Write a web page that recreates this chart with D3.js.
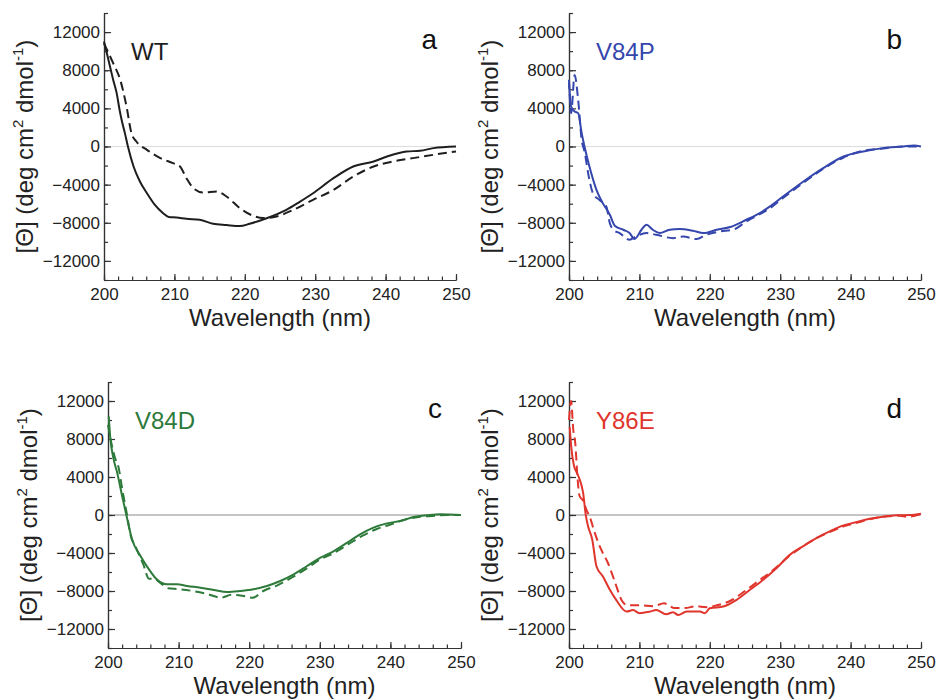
<!DOCTYPE html>
<meta charset="utf-8">
<style>
  body { margin: 0; background: #fff; }
  text { font-family: "Liberation Sans", Arial, sans-serif; }
  .axis path, .axis line { stroke: #333; stroke-width: 1.2; }
  .axis text { font-size: 17px; fill: #222; }
</style>
<body>
<script src="https://cdnjs.cloudflare.com/ajax/libs/d3/7.8.5/d3.min.js"></script>
<script>

// data: [wavelength (nm), ellipticity (deg cm2 dmol-1)]
var wtSolid = [[200,11000],[200.4,9800],[200.85,8400],[201.3,7000],[201.8,5600],[202.2,3900],[202.5,2800],[203,1300],[203.4,0],[204.2,-2100],[205.1,-3670],[206.1,-4900],[207.2,-6100],[208.4,-7000],[209.2,-7400],[210.3,-7450],[211.7,-7580],[213.6,-7680],[215.5,-8100],[217.4,-8240],[219.3,-8350],[220.7,-8100],[223.1,-7520],[225.9,-6640],[227.8,-5800],[229.7,-4900],[232.6,-3320],[235.4,-2100],[238.3,-1570],[240.2,-1050],[243,-520],[244.9,-450],[246.8,-170],[250,0]];
var wtDashed = [[200,10800],[201.3,8740],[202.3,7000],[203.2,4200],[203.9,1400],[204.6,520],[206.1,-350],[208,-1220],[209.8,-1750],[210.8,-2100],[211.7,-3320],[212.7,-4370],[214.1,-4830],[216,-4720],[217.4,-5240],[219.3,-6470],[221.2,-7270],[222.6,-7500],[224.5,-7340],[226.9,-6640],[229.7,-5590],[232.6,-4550],[235.4,-3150],[238.3,-2100],[241.1,-1570],[243.9,-1220],[246.8,-870],[250,-520]];

var v84pSolid = [[200,6650],[200.3,4190],[200.8,3670],[201.3,3500],[201.8,1400],[202.2,0],[202.9,-2100],[203.9,-4540],[204.8,-5940],[205.8,-7160],[206.5,-8310],[207.7,-8730],[208.6,-9080],[209.3,-9710],[210.3,-8730],[211,-8210],[211.9,-8730],[212.9,-9080],[214.3,-8730],[215.7,-8660],[217.6,-8840],[219.1,-9080],[221,-8730],[222.9,-8450],[225.2,-7680],[227.1,-6980],[228.5,-6300],[230.4,-5250],[233.3,-3670],[236.1,-2270],[239,-1050],[241.8,-520],[244.6,-170],[247.5,0],[249,100],[250,0]];
var v84pDashed = [[200,7000],[200.3,3500],[200.8,7500],[201.3,4900],[201.8,700],[202.2,-520],[202.9,-3500],[203.4,-4900],[204.3,-5590],[205.3,-6290],[205.8,-8040],[206.3,-8730],[207.2,-9080],[208.6,-9780],[209.5,-9430],[211,-9080],[212.4,-9260],[214.8,-9610],[216.2,-9430],[218.1,-9710],[219.5,-9260],[221.4,-8910],[223.3,-8730],[225.2,-7860],[227.1,-7100],[228.5,-6500],[230.4,-5400],[233.3,-3800],[236.1,-2350],[239,-1150],[241.8,-450],[244.6,-200],[247.5,0],[250,0]];

var v84dSolid = [[200.1,10400],[200.3,8300],[200.8,5860],[201.3,4460],[202,2000],[202.6,0],[203.4,-2560],[204.6,-4320],[205.8,-5720],[206.9,-6770],[208.4,-7300],[209.8,-7300],[211.2,-7470],[213.1,-7650],[215,-7890],[216.9,-8100],[218.7,-8000],[220.6,-7820],[222.5,-7470],[224.4,-6950],[226.3,-6250],[228.2,-5370],[230.1,-4490],[232,-3790],[233.9,-2910],[235.7,-2040],[237.6,-1330],[239.5,-880],[241.4,-630],[243.3,-210],[245.2,-35],[247.1,70],[250,0]];
var v84dDashed = [[200,9500],[200.5,7500],[201,6000],[201.5,5000],[202,2800],[202.6,400],[203.2,-2100],[204,-3500],[205,-5200],[205.8,-6700],[206.5,-6700],[207.5,-7200],[208.5,-7700],[210,-7800],[212,-8000],[214,-8300],[216,-8700],[217.5,-8400],[219,-8500],[220.5,-8700],[222,-8000],[224,-7400],[226,-6600],[228,-5700],[230,-4700],[232,-4000],[234,-3100],[236,-2200],[238,-1500],[240,-1000],[242,-500],[244,-200],[246,-100],[248,0],[250,0]];

var y86eSolid = [[200.1,9250],[200.3,7300],[200.7,5200],[201.1,4480],[201.5,3780],[202,2360],[202.4,-100],[202.7,-1160],[203.3,-2580],[203.9,-5400],[204.8,-6460],[205.8,-7870],[206.7,-8930],[208.2,-10170],[209.1,-10000],[210,-10340],[211.5,-10170],[212.4,-10000],[213.8,-10450],[214.8,-10240],[215.5,-10520],[216.7,-10170],[218.6,-10170],[219.3,-10340],[220,-9810],[221.9,-9640],[223.8,-8930],[225.7,-7870],[227.6,-6810],[229.5,-5580],[231.4,-4170],[233.3,-3280],[235.2,-2400],[237.1,-1690],[239,-1090],[240.9,-740],[242.7,-390],[244.6,-180],[246.5,-35],[248.4,0],[250,140]];
var y86eDashed = [[200,10000],[200.3,12000],[200.6,9000],[200.9,7500],[201.2,4000],[201.5,2000],[202,1500],[202.5,500],[203,-300],[203.5,-1500],[204.2,-3000],[204.8,-4000],[205.5,-5000],[206.5,-7000],[207.5,-9000],[208.3,-9500],[210,-9500],[212,-9600],[213.5,-9300],[215,-9800],[216.5,-9800],[218,-9600],[219.5,-9700],[221,-9500],[223,-9000],[225,-8000],[227,-6900],[229,-5800],[231,-4500],[233,-3400],[235,-2500],[237,-1800],[239,-1200],[241,-800],[243,-400],[245,-150],[247,-80],[248,-200],[250,100]];

var names = ['WT', 'V84P', 'V84D', 'Y86E'];
var letters = ['a', 'b', 'c', 'd'];
var colors = ['#1e1e1e', '#3546ad', '#2d7a3a', '#e0352c'];
var zeroColors = ['#dcdcdc', '#dcdcdc', '#8a8a8a', '#8a8a8a'];
var solids = [wtSolid, v84pSolid, v84dSolid, y86eSolid];
var dashes = [wtDashed, v84pDashed, v84dDashed, y86eDashed];
var xTicks = [200, 210, 220, 230, 240, 250];
var yTicks = [-12000, -8000, -4000, 0, 4000, 8000, 12000];

// panel frames in page pixels
var frames = [
  { left: 104, right: 456, top: 13, bottom: 280 },
  { left: 569, right: 921, top: 13, bottom: 280 },
  { left: 108, right: 461, top: 382, bottom: 648 },
  { left: 569, right: 921, top: 382, bottom: 648 }
];

var svg = d3.select('body').append('svg').attr('width', 937).attr('height', 700);

frames.forEach(function (f, i) {
  var x = d3.scaleLinear().domain([200, 250]).range([f.left, f.right]);
  var y = d3.scaleLinear().domain([-14000, 14000]).range([f.bottom, f.top]);
  var g = svg.append('g');

  // zero line
  g.append('line')
    .attr('x1', x(200)).attr('x2', x(250))
    .attr('y1', y(0)).attr('y2', y(0))
    .attr('stroke', zeroColors[i]).attr('stroke-width', 1);

  // minor ticks
  g.append('g').attr('class', 'axis')
    .attr('transform', 'translate(' + f.left + ',0)')
    .call(d3.axisLeft(y).tickValues(d3.range(-14000, 14001, 2000)).tickSizeInner(-4).tickSizeOuter(0).tickFormat(''));
  g.append('g').attr('class', 'axis')
    .attr('transform', 'translate(0,' + f.bottom + ')')
    .call(d3.axisBottom(x).tickValues(d3.range(200, 251, 2)).tickSizeInner(-3.5).tickSizeOuter(0).tickFormat(''));

  // major ticks + labels
  g.append('g').attr('class', 'axis')
    .attr('transform', 'translate(' + f.left + ',0)')
    .call(d3.axisLeft(y).tickValues(yTicks).tickSizeInner(-7).tickSizeOuter(0).tickPadding(4).tickFormat(d3.format('d')));
  g.append('g').attr('class', 'axis')
    .attr('transform', 'translate(0,' + f.bottom + ')')
    .call(d3.axisBottom(x).tickValues(xTicks).tickSizeInner(-6).tickSizeOuter(0).tickPadding(8).tickFormat(d3.format('d')));

  // curves
  var line = d3.line().x(function (d) { return x(d[0]); }).y(function (d) { return y(d[1]); })
    .curve(d3.curveMonotoneX);
  g.append('path').datum(dashes[i]).attr('d', line)
    .attr('fill', 'none').attr('stroke', colors[i]).attr('stroke-width', 2)
    .attr('stroke-dasharray', '9,5');
  g.append('path').datum(solids[i]).attr('d', line)
    .attr('fill', 'none').attr('stroke', colors[i]).attr('stroke-width', 2);

  // texts
  g.append('text').attr('x', f.left + 27).attr('y', f.top + 47)
    .style('font-size', '24px').attr('fill', colors[i]).text(names[i]);
  g.append('text').attr('x', f.right - 19).attr('y', f.top + 36)
    .attr('text-anchor', 'end').style('font-size', '28px').attr('fill', '#111').text(letters[i]);

  g.append('text').attr('x', (f.left + f.right) / 2).attr('y', f.bottom + 46)
    .attr('text-anchor', 'middle').style('font-size', '24px').attr('fill', '#222')
    .text('Wavelength (nm)');

  var yt = g.append('text')
    .attr('transform', 'translate(' + (f.left - 71) + ',' + y(0) + ') rotate(-90)')
    .attr('text-anchor', 'middle').style('font-size', '24px').attr('fill', '#222');
  yt.append('tspan').text('[\u0398] (deg cm');
  yt.append('tspan').attr('dy', -10).style('font-size', '15px').text('2');
  yt.append('tspan').attr('dy', 10).text(' dmol');
  yt.append('tspan').attr('dy', -10).style('font-size', '15px').text('-1');
  yt.append('tspan').attr('dy', 10).text(')');
});

</script>
</body>
</html>
